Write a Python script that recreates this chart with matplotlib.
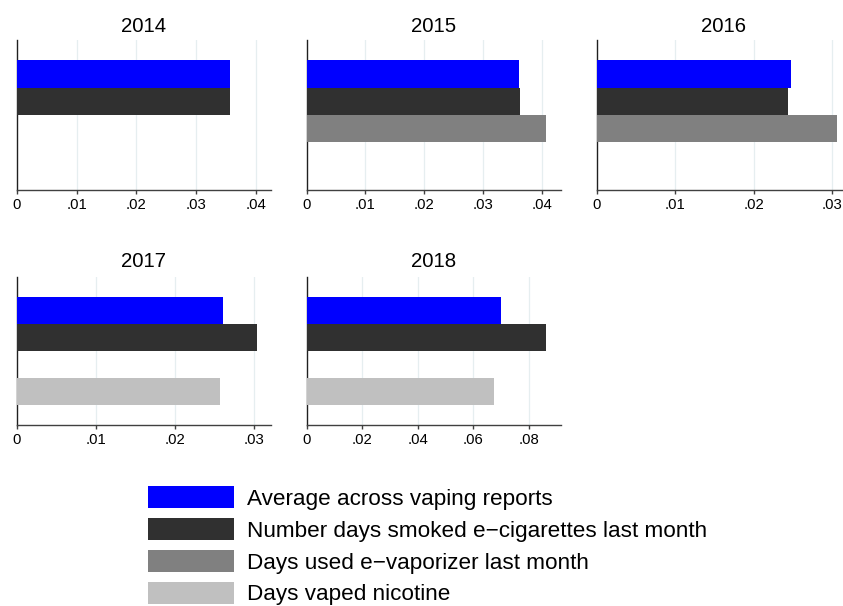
import numpy as np
import matplotlib
matplotlib.use("Agg")
import matplotlib.pyplot as plt
from matplotlib.patches import Patch

plt.rcParams['font.family'] = ['Liberation Sans', 'DejaVu Sans']

years = [2014, 2015, 2016, 2017, 2018]
series_labels = [
    "Average across vaping reports",
    "Number days smoked e\u2212cigarettes last month",
    "Days used e\u2212vaporizer last month",
    "Days vaped nicotine",
]
series_colors = ["#0000ff", "#303030", "#808080", "#c0c0c0"]

avg_vaping = [0.0357, 0.0361, 0.0248, 0.0261, 0.0700]
smoked_ecig = [0.0357, 0.0363, 0.0244, 0.0303, 0.0862]
used_vaporizer = [np.nan, 0.0407, 0.0306, np.nan, np.nan]
vaped_nicotine = [np.nan, np.nan, np.nan, 0.0257, 0.0675]

x_max = [0.0425, 0.0432, 0.0323, 0.0321, 0.0915]
tick_values = [
    [0, 0.01, 0.02, 0.03, 0.04],
    [0, 0.01, 0.02, 0.03, 0.04],
    [0, 0.01, 0.02, 0.03],
    [0, 0.01, 0.02, 0.03],
    [0, 0.02, 0.04, 0.06, 0.08],
]
tick_labels = [
    ["0", ".01", ".02", ".03", ".04"],
    ["0", ".01", ".02", ".03", ".04"],
    ["0", ".01", ".02", ".03"],
    ["0", ".01", ".02", ".03"],
    ["0", ".02", ".04", ".06", ".08"],
]

series = [avg_vaping, smoked_ecig, used_vaporizer, vaped_nicotine]

W, H = 843, 606
fig = plt.figure(figsize=(W / 100, H / 100), dpi=100)

# panel boxes in pixels: (left, right, top, bottom)
col_x = [(16.7, 271.0), (306.7, 560.7), (596.7, 850.0)]
row_y = [(40.0, 190.0), (276.7, 425.3)]
title_pad = [5.5, 7.0]

axis_col = "#404040"
grid_col = "#e6eef0"

for i, yr in enumerate(years):
    r, c = divmod(i, 3)
    l, rr = col_x[c]
    t, b = row_y[r]
    ax = fig.add_axes([l / W, 1 - b / H, (rr - l) / W, (b - t) / H])
    pos = np.arange(len(series))
    vals = [s[i] for s in series]
    for k in range(len(series)):
        if not np.isnan(vals[k]):
            ax.barh(pos[k], vals[k], height=1.0, color=series_colors[k],
                    linewidth=0, zorder=3)
    pad = 0.74
    ax.set_ylim(len(series) - 0.5 + pad, -0.5 - pad)
    ax.set_xlim(0, x_max[i])
    ax.set_xticks(tick_values[i])
    ax.set_xticklabels(tick_labels[i])
    ax.set_yticks([])
    for tv in tick_values[i][1:]:
        ax.axvline(tv, color=grid_col, lw=0.9, zorder=1)
    for s in ["top", "right"]:
        ax.spines[s].set_visible(False)
    ax.spines["left"].set_color("#202020")
    ax.spines["bottom"].set_color(axis_col)
    ax.spines["left"].set_linewidth(1.0)
    ax.spines["bottom"].set_linewidth(1.0)
    ax.tick_params(axis="x", length=3, width=1.0, color=axis_col,
                   labelsize=10.7, pad=2.5, labelcolor="black")
    ax.set_title(str(yr), fontsize=14.7, pad=title_pad[r])

handles = [Patch(facecolor=col, edgecolor="none") for col in series_colors]
fs = 16.2
leg = fig.legend(handles, series_labels, loc="upper left",
                 bbox_to_anchor=(148.3 / W, 1 - 486.0 / H),
                 frameon=False, fontsize=fs, borderpad=0, borderaxespad=0,
                 handlelength=3.8, handleheight=1.15, handletextpad=0.6,
                 labelspacing=0.36)

fig.savefig("out.png", dpi=100)
